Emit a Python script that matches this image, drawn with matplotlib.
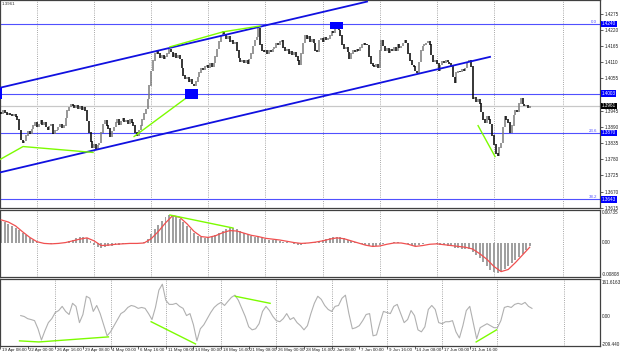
import numpy as np
import matplotlib.pyplot as plt
from matplotlib.transforms import blended_transform_factory as blend

plt.rcParams["font.family"] = ["Liberation Sans", "DejaVu Sans"]

W, H = 620, 357

# H4 bars, index 0 = 22 Apr 00:00, first visible bar is -5
first_bar = -5
closes_pips = [
    13940, 13935, 13945, 13938, 13930, 13936, 13932, 13928, 13934, 13925,
    13915, 13880, 13845, 13836, 13842, 13860, 13875, 13868, 13882, 13895,
    13905, 13890, 13900, 13912, 13898, 13905, 13890, 13880, 13893, 13900,
    13866, 13878, 13880, 13890, 13898, 13888, 13895, 13920, 13945, 13958,
    13968, 13962, 13955, 13965, 13950, 13960, 13948, 13955, 13945, 13910,
    13870, 13840, 13820, 13830, 13815, 13828, 13835, 13870, 13900, 13912,
    13895, 13885, 13855, 13875, 13890, 13905, 13915, 13898, 13910, 13920,
    13908, 13912, 13900, 13915, 13905, 13895, 13870, 13858, 13880, 13895,
    13915, 13935, 13950, 13985, 14030, 14080, 14115, 14140, 14150, 14140,
    14125, 14135, 14120, 14130, 14140, 14155, 14145, 14130, 14140, 14125,
    14135, 14120, 14090, 14065, 14055, 14060, 14045, 14052, 14035, 14030,
    14045, 14060, 14075, 14090, 14085, 14095, 14100, 14090, 14105, 14095,
    14108, 14130, 14155, 14180, 14200, 14215, 14205, 14190, 14198, 14180,
    14185, 14172, 14178, 14150, 14125, 14112, 14118, 14108, 14115, 14105,
    14120, 14140, 14165, 14185, 14195, 14225, 14170, 14150, 14145, 14152,
    14138, 14150, 14145, 14155, 14160, 14175, 14168, 14180, 14185, 14160,
    14150, 14155, 14140, 14148, 14135, 14145, 14130, 14115, 14100, 14140,
    14175, 14200, 14190, 14198, 14180, 14188, 14175, 14150, 14145, 14185,
    14192, 14180, 14195, 14185, 14190, 14200, 14215, 14210, 14225, 14235,
    14220, 14200, 14170, 14155, 14160, 14145, 14120, 14140, 14150, 14145,
    14155, 14148, 14160, 14170, 14175, 14170, 14168, 14130, 14105, 14098,
    14095, 14102, 14090, 14150, 14185, 14165, 14150, 14158, 14142, 14155,
    14148, 14160, 14150, 14170, 14158, 14165, 14175, 14185, 14175, 14140,
    14115, 14100, 14095, 14080, 14075, 14110, 14150, 14165, 14170, 14175,
    14180, 14170, 14135, 14110, 14115, 14105, 14080, 14100, 14112, 14108,
    14115, 14110, 14105, 14095, 14060, 14040, 14075, 14080, 14078, 14085,
    14080, 14090, 14110, 14115, 14095, 13985, 13990, 13975, 13985, 13970,
    13940, 13915, 13905, 13925, 13915, 13900, 13860, 13830, 13800, 13790,
    13820, 13835, 13890, 13925, 13915, 13905, 13870, 13895, 13930, 13945,
    13940, 13970, 13988, 13968, 13960, 13965, 13955, 13961,
]

# MACD histogram, every 2nd bar from bar -4, in 0.0001
hist_start = -4
macd_hist = [
    52, 48, 44, 40, 35, 30, 24, 18, 12, 7, 3, 1, 0, -1, -2, -3, -2, -1, 1, 4,
    8, 11, 13, 14, 12, 5, -4, -9, -11, -10, -8, -7, -5, -4, -3, -2, -2, -1, -2, 0,
    3, 10, 20, 32, 42, 52, 60, 65, 64, 60, 56, 48, 40, 32, 24, 17, 13, 12, 13, 15,
    18, 23, 28, 32, 34, 35, 33, 28, 24, 20, 16, 14, 14, 12, 10, 8, 7, 6, 5, 3,
    2, 0, -2, -4, -4, -2, 0, 2, 3, 5, 7, 9, 11, 13, 14, 13, 11, 8, 5, 2,
    0, -3, -5, -7, -9, -8, -5, -2, 0, 1, 2, 2, 1, 0, -2, -4, -6, -5, -3, -1,
    0, -1, -2, -4, -5, -6, -8, -11, -12, -13, -14, -15, -20, -27, -36, -44, -53, -63, -69, -70,
    -66, -60, -54, -47, -40, -33, -25, -16, -6,
]

# MACD signal line, every 4th bar from bar -4, in 0.0001
signal_start = -4
macd_signal = [
    54, 49, 40, 26, 13, 3, -1, -2, -1, 1, 5, 9, 12, 5, -6, -5, -3, -2, -1, -1,
    0, 10, 27, 47, 64, 60, 45, 27, 15, 13, 17, 24, 29, 28, 23, 18, 15, 11, 9, 7,
    4, 1, -1, 0, 2, 5, 9, 12, 10, 5, 0, -5, -8, -7, -3, 0, 0, -3, -8, -6,
    -3, -2, -4, -6, -8, -10, -14, -25, -38, -55, -67, -62, -46, -28, -10,
]

# CCI, every 2nd bar from bar -4
cci_start = -4
cci = [
    -41, -46, -58, -63, -69, -114, -176, -125, -80, -58, -24, -13, 10, -18, -35, 27, 10, -80, -35, 66,
    55, -18, 15, -30, -92, -153, -131, -97, -63, -30, -18, 4, 15, 10, -1, 4, -1, -30, -63, 4,
    100, 133, 44, 21, 21, 27, 10, -1, -41, -30, -92, -181, -114, -92, -58, -24, 4, 21, 32, 15,
    38, 60, 72, 44, -1, -46, -103, -120, -114, -86, -18, 10, -13, -46, -69, -75, -58, -30, -63, -52,
    -80, -97, -120, -97, -30, 27, 66, 49, 15, -7, -18, 10, 15, 55, 72, -30, -114, -108, -97, -69,
    -35, -30, -153, -148, -80, -18, -24, -30, 10, 21, -30, -80, -63, -13, -41, -120, -131, -103, -7, 15,
    -7, -80, -86, -75, -75, -69, -131, -165, -97, -13, 10, -80, -170, -108, -97, -86, -97, -108, -108, -69,
    4, 10, 4, 21, 27, 21, 32, 10, -1,
]

time_labels = ["19 Apr 08:00", "22 Apr 00:00", "26 Apr 16:00", "29 Apr 08:00",
               "4 May 00:00", "6 May 16:00", "11 May 08:00", "14 May 00:00",
               "18 May 16:00", "21 May 08:00", "26 May 00:00", "28 May 16:00",
               "2 Jun 08:00", "7 Jun 00:00", "9 Jun 16:00", "14 Jun 08:00",
               "17 Jun 00:00", "21 Jun 16:00"]
label_first = -16
label_step = 16

price_ticks = [1.4275, 1.4220, 1.4165, 1.4110, 1.4055, 1.3945, 1.3890,
               1.3835, 1.3780, 1.3725, 1.3670, 1.3615]
levels = [1.4240, 1.4003, 1.3870, 1.3643]
fib_names = {1.4240: "0.0", 1.3870: "23.6", 1.3643: "38.2"}
last_price = 1.3961

channel_up = [(-4.7, 1.4023), (200.9, 1.4316)]
channel_dn = [(-4.7, 1.3735), (269.8, 1.4128)]
price_div = [[(-4.7, 1.3779), (8.2, 1.3823), (47.4, 1.3803)],
             [(70.4, 1.3857), (102.9, 1.4003)],
             [(90.5, 1.4162), (120.2, 1.4213), (140.9, 1.4233)],
             [(263.1, 1.3894), (272.6, 1.3789)]]
macd_div = [[(90.5, 0.00655), (125.8, 0.00351)]]
cci_div = [[(-4.7, -181), (6.5, -187), (46.8, -159)],
           [(71.5, -75), (97.2, -198)],
           [(120.2, 66), (140.4, 27)],
           [(259.7, -187), (271.5, -120)]]
boxes = [(-4.8, -3.6, 1.3986, 1.4023),
         (98.9, 106.2, 1.3986, 1.4020),
         (180.2, 187.4, 1.4223, 1.4247)]

grid_bars = [16, 48, 80, 112, 144, 176, 208, 240, 272, 310.7]
XLIM = (-4.706, 331.4)

BLUE = "#0000ff"
LVL = "#5050ff"
GREEN = "#7cfc00"
FS = 3.3


def px_axes(top, bottom):
    return [0, 1 - bottom / H, 600 / W, (bottom - top) / H]


fig = plt.figure(figsize=(W / 100, H / 100), dpi=100)
ax = fig.add_axes(px_axes(0, 208))
ax_m = fig.add_axes(px_axes(210, 277))
ax_c = fig.add_axes(px_axes(279, 346))

for a in (ax, ax_m, ax_c):
    a.set_xlim(*XLIM)
    for s in a.spines.values():
        s.set_color("#404040")
        s.set_linewidth(0.9)
    for g in grid_bars:
        a.axvline(g, color="#8a8a8a", lw=0.6, ls=(0, (1, 1.6)), zorder=0)
    a.tick_params(axis="both", which="both", left=False, right=True,
                  labelleft=False, labelright=True, bottom=False,
                  labelbottom=False, length=2, width=0.5, pad=1.2,
                  labelsize=FS, colors="#202020")

# ---- price panel
closes = np.array(closes_pips) / 10000
bars = np.arange(len(closes)) + first_bar
opens = np.r_[closes[0], closes[:-1]]
lo = np.minimum(opens, closes) - 0.00008
hi = np.maximum(opens, closes) + 0.00008
up = closes >= opens

ax.set_ylim(1.36140, 1.43214)
ax.set_yticks(price_ticks)
ax.set_yticklabels([f"{p:.4f}" for p in price_ticks])

ax.axhline(last_price, color="#c8c8c8", lw=0.9, zorder=1)
for lv in levels:
    ax.axhline(lv, color=LVL, lw=0.8, zorder=2)
    if lv in fib_names:
        ax.text(XLIM[1] - 1.5, lv, fib_names[lv], ha="right", va="bottom",
                fontsize=3.2, color=LVL)

ax.vlines(bars[up], lo[up], hi[up], color="#7a7a7a", lw=1.1, zorder=3)
ax.vlines(bars[~up], lo[~up], hi[~up], color="black", lw=1.1, zorder=3)

for seg in (channel_up, channel_dn):
    xs, ys = zip(*seg)
    ax.plot(xs, ys, color="#1010e0", lw=1.3, zorder=4)
for seg in price_div:
    xs, ys = zip(*seg)
    ax.plot(xs, ys, color=GREEN, lw=1.0, zorder=4)
for x0, x1, y0, y1 in boxes:
    ax.fill_between([x0, x1], y0, y1, color=BLUE, lw=0, zorder=5)

tr = blend(ax.transAxes, ax.transData)
for lv in levels:
    ax.text(1.003, lv, f"{lv:.4f}", transform=tr, ha="left", va="center",
            fontsize=FS, color="white", zorder=6, clip_on=False,
            bbox=dict(boxstyle="square,pad=0.15", fc=BLUE, ec="none"))
ax.text(1.003, last_price, f"{last_price:.4f}", transform=tr, ha="left",
        va="center", fontsize=FS, color="white", clip_on=False,
        bbox=dict(boxstyle="square,pad=0.15", fc="black", ec="none"))
fig.text(2 / W, 1 - 4 / H, "1.3961", fontsize=3.2, va="center", color="#303030")

# ---- MACD panel
hx = np.arange(len(macd_hist)) * 2 + hist_start
sx = np.arange(len(macd_signal)) * 4 + signal_start
ax_m.set_ylim(-0.00796, 0.00772)
ax_m.set_yticks([])
ax_m.bar(hx, np.array(macd_hist) / 10000, width=1.1, color="#a0a0a0", lw=0, zorder=2)
ax_m.plot(sx, np.array(macd_signal) / 10000, color="#f05050", lw=0.9, zorder=3)
for seg in macd_div:
    xs, ys = zip(*seg)
    ax_m.plot(xs, ys, color=GREEN, lw=1.0, zorder=4)

# ---- CCI panel
cx = np.arange(len(cci)) * 2 + cci_start
ax_c.set_ylim(-209.44, 161.6163)
ax_c.set_yticks([])
ax_c.plot(cx, cci, color="#b0b0b0", lw=0.8, zorder=2)
for seg in cci_div:
    xs, ys = zip(*seg)
    ax_c.plot(xs, ys, color=GREEN, lw=1.0, zorder=3)

# right-hand labels of the indicator windows
for ypx, txt in [(213, "0.00735"), (243, "0.00"), (275, "-0.00808"),
                 (282, "161.6163"), (316, "0.00"), (344, "-209.440")]:
    fig.text(602 / W, 1 - ypx / H, txt, fontsize=FS, va="center", color="#202020")

# time axis
ax_c.set_xticks([label_first + k * label_step for k in range(len(time_labels))])
ax_c.tick_params(axis="x", bottom=True, length=2, width=0.5)
trc = blend(ax_c.transData, ax_c.transAxes)
for k, lab in enumerate(time_labels):
    ax_c.text(label_first + k * label_step + 1.0, -0.03, lab, transform=trc,
              ha="left", va="top", fontsize=3.2, color="#202020", clip_on=False)

fig.savefig("out.png", dpi=100, facecolor="white")
